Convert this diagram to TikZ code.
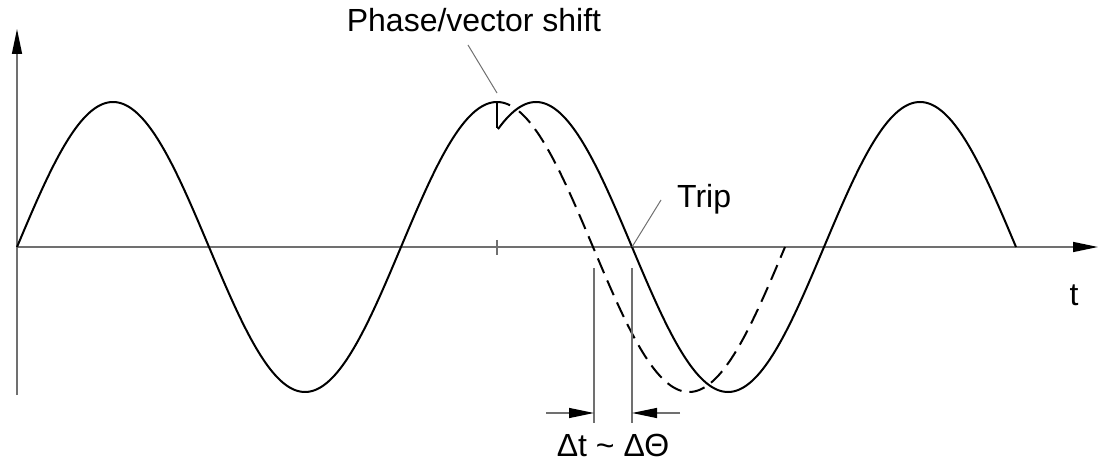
\documentclass[tikz,border=0pt]{standalone}
\usepackage{fontspec}
\setmainfont{Liberation Sans}
\usetikzlibrary{arrows.meta}
\definecolor{axisgray}{HTML}{707070}
\tikzset{
  axisline/.style={draw=axisgray, line width=1.5pt},
  wave/.style={draw=black, line width=2pt},
  dashwave/.style={draw=black, line width=2pt, dash pattern=on 16pt off 8pt},
  leader/.style={draw=axisgray, line width=1pt},
  dimline/.style={draw=axisgray, line width=1.2pt},
  tip/.style={-{Triangle[length=25pt,width=10pt,color=black]}},
  lbl/.style={inner sep=0pt, font=\fontsize{32}{38}\selectfont},
}
\begin{document}
\begin{tikzpicture}[x=1pt,y=-1pt]
\useasboundingbox (0,0) rectangle (1103,462);
% axes
\coordinate (O) at (17,247);
\coordinate (ybot) at (17,395);
\coordinate (ytop) at (17,29);
\coordinate (xend) at (1098,247);
\draw[axisline] (ybot) -- (O);
\draw[axisline, tip] (O) -- (ytop);
\draw[axisline, tip] (O) -- (xend);
% tick on x axis
\coordinate (tk1) at (497,240);
\coordinate (tk2) at (497,255);
\draw[axisline, line width=1.2pt] (tk1) -- (tk2);
% original wave
\draw[wave] plot[domain=17:510, samples=250, smooth] (\x, {247-145*sin((\x-17)/384*360)});
\draw[dashwave] plot[domain=519:785, samples=150, smooth] (\x, {247-145*sin((\x-17)/384*360)});
% shifted wave
\draw[wave] plot[domain=498:1016, samples=260, smooth] (\x, {247-145*sin((\x-56)/384*360)});
% vector shift tick
\coordinate (pk) at (497,102);
\coordinate (pkb) at (497,128);
\draw[black, line width=1.5pt] (pk) -- (pkb);
% labels
\node[lbl, anchor=base] (phase) at (474,32) {Phase/vector shift};
\coordinate (ph1) at (468,45);
\coordinate (ph2) at (497,93);
\draw[leader] (ph1) -- (ph2);
\node[lbl, anchor=base west] (trip) at (677,208) {Trip};
\coordinate (tr1) at (661,200);
\coordinate (tr2) at (632,247);
\draw[leader] (tr1) -- (tr2);
\node[lbl, anchor=base] (tlab) at (1074,306) {t};
% dimension
\coordinate (d1t) at (594,268);
\coordinate (d1b) at (594,423);
\coordinate (d2t) at (632,268);
\coordinate (d2b) at (632,423);
\draw[dimline] (d1t) -- (d1b);
\draw[dimline] (d2t) -- (d2b);
\coordinate (a1s) at (546,413);
\coordinate (a1e) at (594,413);
\coordinate (a2s) at (680,413);
\coordinate (a2e) at (632,413);
\draw[dimline, tip] (a1s) -- (a1e);
\draw[dimline, tip] (a2s) -- (a2e);
\node[lbl, anchor=base] (dlab) at (613,456) {Δt {\char"7E} ΔΘ};
\end{tikzpicture}
\end{document}
